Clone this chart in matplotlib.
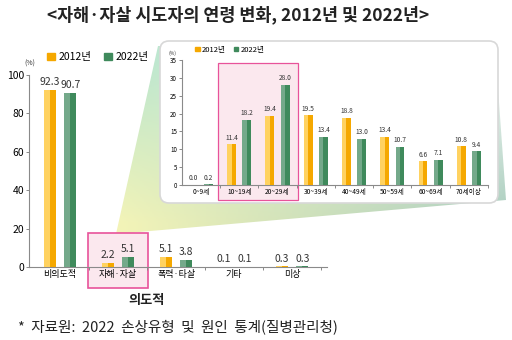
import numpy as np
import matplotlib
matplotlib.use("Agg")
import matplotlib.pyplot as plt
from matplotlib.patches import Rectangle, Polygon, FancyBboxPatch, Patch

plt.rcParams['font.family'] = ['Noto Sans CJK KR', 'DejaVu Sans']

# data
main_cats = ["비의도적", "자해·자살", "폭력·타살", "기타", "미상"]
main_2012 = [92.3, 2.2, 5.1, 0.1, 0.3]
main_2022 = [90.7, 5.1, 3.8, 0.1, 0.3]

age_cats = ["0~9세", "10~19세", "20~29세", "30~39세", "40~49세", "50~59세", "60~69세", "70세이상"]
age_2012 = [0.0, 11.4, 19.4, 19.5, 18.8, 13.4, 6.6, 10.8]
age_2022 = [0.2, 18.2, 28.0, 13.4, 13.0, 10.7, 7.1, 9.4]

series = ["2012년", "2022년"]

Y_DARK, Y_LIGHT = "#f5a800", "#ffd260"
G_DARK, G_LIGHT = "#3f8a5c", "#74a98a"
PINK_EDGE, PINK_FILL = "#e8539a", "#fbe8ee"
AX_COL = "#8a8a8a"

W, H = 512, 340
fig = plt.figure(figsize=(W / 100, H / 100), dpi=100)


def px_axes(x0, y0, x1, y1, z):
    return fig.add_axes([x0 / W, 1 - y1 / H, (x1 - x0) / W, (y1 - y0) / H], zorder=z)


# background layer in pixel coords
bg = px_axes(0, 0, W, H, 0)
bg.set_xlim(0, W)
bg.set_ylim(H, 0)
bg.axis("off")

wedge = Polygon([(116, 234), (158, 46), (495, 46), (506, 200)], closed=True,
                facecolor="none", edgecolor="none")
bg.add_patch(wedge)
gx, gy = np.meshgrid(np.linspace(0, 1, 200), np.linspace(0, 1, 200))
c_yel = np.array([0.96, 0.96, 0.72])
c_mint = np.array([0.72, 0.90, 0.80])
c_teal = np.array([0.66, 0.80, 0.74])
t = np.clip(gy * 1.2 - 0.1, 0, 1)[..., None]
s = gx[..., None]
img = (1 - t) * ((1 - s) * c_mint + s * np.array([0.95, 0.97, 0.96])) + t * ((1 - s) * c_yel + s * c_teal)
im = bg.imshow(img, extent=(110, 510, 240, 40), aspect="auto", zorder=1)
im.set_clip_path(wedge)

bg.add_patch(FancyBboxPatch((160, 41), 338, 162, boxstyle="round,pad=0,rounding_size=9",
                            facecolor="white", edgecolor="#d8d8d8", linewidth=1.2, zorder=2))

bg.text(238, 15, "<자해·자살 시도자의 연령 변화, 2012년 및 2022년>", ha="center", va="center",
        fontsize=12.5, fontweight="bold", color="#222222")
bg.text(147, 300, "의도적", ha="center", va="center", fontsize=9.5, fontweight="bold", color="#222222")
bg.text(18, 327, "*  자료원:  2022  손상유형  및  원인  통계(질병관리청)", ha="left", va="center",
        fontsize=10.5, color="#222222")


def draw_bars(ax, cats, v12, v22, off, w, fs, fmt):
    x = np.arange(len(cats))
    for vals, dx, dark, light in [(v12, -off, Y_DARK, Y_LIGHT), (v22, off, G_DARK, G_LIGHT)]:
        ax.bar(x + dx, vals, w, color=dark, zorder=3)
        ax.bar(x + dx - w / 4, vals, w / 2, color=light, zorder=3)
        for xi, v in zip(x + dx, vals):
            ax.annotate(fmt.format(v), (xi, v), xytext=(0, 2), textcoords="offset points",
                        ha="center", va="bottom", fontsize=fs, color="#333333", zorder=4)


def style_axis(ax, n, fs_tick, fs_cat):
    for sp in ["top", "right"]:
        ax.spines[sp].set_visible(False)
    for sp in ["left", "bottom"]:
        ax.spines[sp].set_color(AX_COL)
        ax.spines[sp].set_linewidth(0.8)
    ax.set_facecolor("none")
    ax.set_xticks(np.arange(n))
    ax.set_xticks(np.arange(n) + 0.5, minor=True)
    ax.tick_params(axis="x", which="major", length=0, labelsize=fs_cat, pad=2)
    ax.tick_params(axis="x", which="minor", length=2.5, color=AX_COL, width=0.7)
    ax.tick_params(axis="y", length=2.5, color=AX_COL, width=0.7, labelsize=fs_tick, pad=1)


# main chart
ax = px_axes(29, 75, 327, 267, 3)
ax.set_xlim(-0.534, 4.6)
ax.set_ylim(0, 100)
ax.add_patch(Rectangle((0.48, -11.0), 1.04, 28.7, facecolor=PINK_FILL, edgecolor=PINK_EDGE,
                       linewidth=1.2, clip_on=False, zorder=1))
draw_bars(ax, main_cats, main_2012, main_2022, 0.175, 0.21, 7.5, "{:.1f}")
style_axis(ax, len(main_cats), 7.5, 6.5)
ax.set_yticks(np.arange(0, 101, 20))
ax.set_xticklabels(main_cats)
ax.text(-0.52, 104, "(%)", fontsize=5, ha="center", va="bottom", color="#333333")

fig.legend([Patch(color=Y_DARK), Patch(color=G_DARK)], series, loc="upper left",
           bbox_to_anchor=(38 / W, 1 - 43 / H), ncol=2, frameon=False, fontsize=7.5,
           handlelength=0.7, handleheight=0.7, handletextpad=0.4, columnspacing=1.2)

# inset age chart
ia = px_axes(182, 60, 488, 185, 3)
ia.set_xlim(-0.495, 7.47)
ia.set_ylim(0, 35)
ia.add_patch(Rectangle((0.44, -4.2), 2.09, 38.4, facecolor=PINK_FILL, edgecolor=PINK_EDGE,
                       linewidth=0.9, clip_on=False, zorder=1))
draw_bars(ia, age_cats, age_2012, age_2022, 0.2, 0.23, 4.8, "{:.1f}")
style_axis(ia, len(age_cats), 4.5, 4.8)
ia.set_yticks(np.arange(0, 36, 5))
ia.set_xticklabels(age_cats)
ia.text(-0.75, 36, "(%)", fontsize=3.5, ha="center", va="bottom", color="#333333")
ia.legend([Patch(color=Y_DARK), Patch(color=G_DARK)], series, loc="upper left",
          bbox_to_anchor=(0.02, 1.17), ncol=2, frameon=False, fontsize=5.5,
          handlelength=0.6, handleheight=0.6, handletextpad=0.3, columnspacing=1.0)

fig.savefig("out.png", dpi=100)
